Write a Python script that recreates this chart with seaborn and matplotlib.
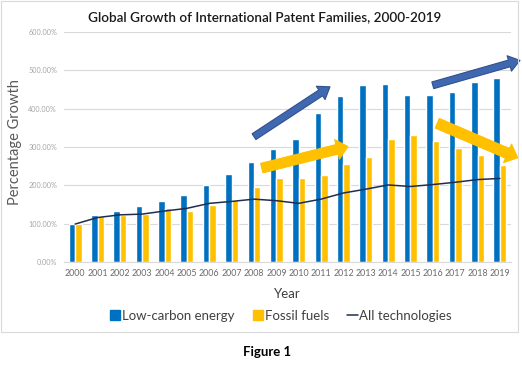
import numpy as np
import pandas as pd
import seaborn as sns
import matplotlib.pyplot as plt
from matplotlib.patches import Rectangle, Patch, FancyArrowPatch
from matplotlib.lines import Line2D
from matplotlib.ticker import FuncFormatter

years = [str(y) for y in range(2000, 2020)]
low_carbon = [99, 123, 134, 147, 160, 175, 200, 230, 260, 294,
              321, 388, 434, 463, 465, 435, 435, 443, 470, 480]
fossil = [100, 120, 123, 125, 140, 134, 149, 162, 195, 218,
          219, 227, 255, 273, 322, 331, 316, 297, 280, 254]
all_tech = [99, 116, 123, 125, 133, 140, 153, 158, 164, 160,
            153, 164, 180, 190, 201, 197, 202, 208, 215, 218]

# trend arrows drawn on the chart: (x start, y start, x end, y end) in category / % units
arrow_blue_1 = (8.0, 327, 11.4, 457)
arrow_yellow_1 = (8.35, 245, 12.2, 301)
arrow_blue_2 = (16.0, 461, 19.9, 526)
arrow_yellow_2 = (16.2, 362, 19.8, 272)

BLUE = '#0070C0'
YELLOW = '#FFC000'
LINE = '#1F2D50'

df = pd.DataFrame({
    'Year': years * 2,
    'value': low_carbon + fossil,
    'series': ['Low-carbon energy'] * len(years) + ['Fossil fuels'] * len(years),
})

sns.set_style('white')
plt.rcParams['font.family'] = ['Lato', 'DejaVu Sans']

fig = plt.figure(figsize=(5.22, 3.71), dpi=100)
ax = fig.add_axes([0.1226, 0.2938, 0.8564, 0.6199])

sns.barplot(data=df, x='Year', y='value', hue='series', palette=[BLUE, YELLOW],
            width=0.58, saturation=1, ax=ax, legend=False)
sns.lineplot(x=np.arange(len(years)), y=all_tech, color=LINE, linewidth=1.1, ax=ax)

ax.set_ylim(0, 600)
ax.set_xlim(-0.5, len(years) - 0.5)
ax.set_yticks(np.arange(0, 601, 100))
ax.yaxis.set_major_formatter(FuncFormatter(lambda v, p: f'{v:.2f}%'))
ax.grid(axis='y', color='#D9D9D9', linewidth=0.8)
ax.set_axisbelow(True)
for s in ['left', 'right', 'top']:
    ax.spines[s].set_visible(False)
ax.spines['bottom'].set_color('#D9D9D9')
ax.tick_params(axis='y', labelsize=5.2, labelcolor='#A6A6A6', length=0, pad=5)
ax.tick_params(axis='x', labelsize=6.4, labelcolor='#6b6b6b', length=0, pad=5)

ax.set_xlabel('Year', fontsize=9.5, color='#404040', labelpad=7)
ax.set_ylabel('Percentage Growth', fontsize=10.5, color='#595959')
ax.yaxis.set_label_coords(-0.094, 0.52)

for (x0, y0, x1, y1), fc, ec, tw, hw in [
        (arrow_blue_1, '#4068B0', '#2F528F', 0.5, 1.15),
        (arrow_yellow_1, YELLOW, YELLOW, 0.7, 1.45),
        (arrow_blue_2, '#4068B0', '#2F528F', 0.5, 1.15),
        (arrow_yellow_2, YELLOW, YELLOW, 0.75, 1.45)]:
    arr = FancyArrowPatch((x0, y0), (x1, y1),
                          arrowstyle=f'simple,head_length=0.8,head_width={hw},tail_width={tw}',
                          mutation_scale=10, facecolor=fc, edgecolor=ec, linewidth=0.8,
                          clip_on=False, zorder=5, shrinkA=0, shrinkB=0)
    ax.add_patch(arr)

fig.text(0.506, 0.953, 'Global Growth of International Patent Families, 2000-2019',
         ha='center', va='center', fontsize=9.7, fontweight='semibold', color='#1a1a1a')

handles = [Patch(facecolor=BLUE, edgecolor=BLUE),
           Patch(facecolor=YELLOW, edgecolor=YELLOW),
           Line2D([0], [0], color=LINE, linewidth=1.1)]
fig.legend(handles, ['Low-carbon energy', 'Fossil fuels', 'All technologies'],
           loc='center', bbox_to_anchor=(0.538, 0.149), ncol=3, frameon=False,
           fontsize=9.5, handlelength=0.8, handleheight=0.75, handletextpad=0.1,
           columnspacing=1.4, labelcolor='#404040')

fig.patches.append(Rectangle((1 / 522, 1 - 332 / 371), 517 / 522, 331 / 371,
                             transform=fig.transFigure, fill=False,
                             edgecolor='#D9D9D9', linewidth=0.8))

fig.text(0.511, 0.052, 'Figure 1', ha='center', va='center', fontsize=9.5,
         fontweight='bold', color='#000000')

plt.savefig('out.png', dpi=100)
